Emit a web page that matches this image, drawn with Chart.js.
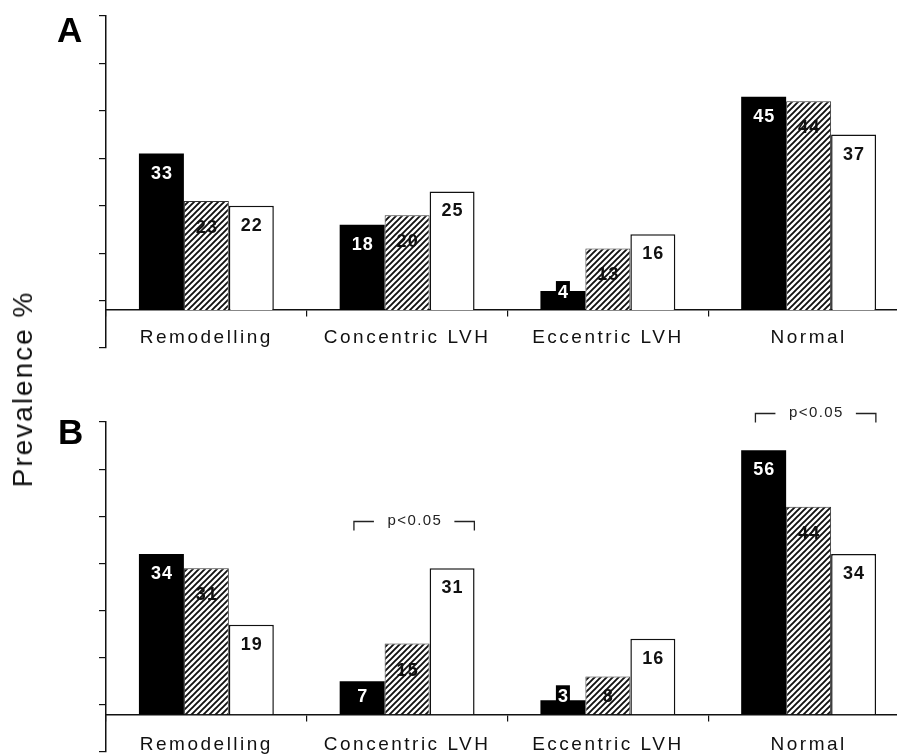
<!DOCTYPE html>
<html><head><meta charset="utf-8">
<script src="https://cdn.jsdelivr.net/npm/chart.js@4.4.0/dist/chart.umd.min.js"></script>
<style>
html,body{margin:0;padding:0;background:#fff;overflow:hidden;width:897px;height:756px;}
#wrap{position:relative;width:897px;height:756px;overflow:hidden;background:#fff;}
canvas{position:absolute;left:0;}
#cA{top:0;} #cB{top:378px;}
#ytitle{position:absolute;left:23px;top:389px;transform:translate(-50%,-50%) rotate(-90deg);font:28px "Liberation Sans",Arial,sans-serif;letter-spacing:2px;color:#111;white-space:nowrap;}
</style></head>
<body><div id="wrap">
<canvas id="cA" width="912" height="380"></canvas>
<canvas id="cB" width="912" height="378"></canvas>
<div id="ytitle">Prevalence %</div>
</div>
<script>
// ---- data ----
const categories = ['Remodelling', 'Concentric LVH', 'Eccentric LVH', 'Normal'];
const panelA_black   = [33, 18, 4, 45];
const panelA_hatched = [23, 20, 13, 44];
const panelA_white   = [22, 25, 16, 37];
const panelB_black   = [34, 7, 3, 56];
const panelB_hatched = [31, 15, 8, 44];
const panelB_white   = [19, 31, 16, 34];
const yTickValues = [-8, 2, 12, 22, 32, 42, 52, 62];
const panelB_pvalues = [
  {category: 'Concentric LVH', label: 'p<0.05', y: 41},
  {category: 'Normal', label: 'p<0.05', y: 64}
];

const FONT = '"Liberation Sans", Arial, sans-serif';
Chart.defaults.font.family = FONT;

function makeHatch() {
  const s = 6, c = document.createElement('canvas');
  c.width = s; c.height = s;
  const g = c.getContext('2d');
  g.fillStyle = '#fff'; g.fillRect(0, 0, s, s);
  g.strokeStyle = '#111'; g.lineWidth = 1.9;
  g.beginPath();
  g.moveTo(-1, s + 1); g.lineTo(s + 1, -1);
  g.moveTo(-2, 2); g.lineTo(2, -2);
  g.moveTo(s - 2, s + 2); g.lineTo(s + 2, s - 2);
  g.stroke();
  return g.createPattern(c, 'repeat');
}
const hatch = makeHatch();

const spacingPlugin = {
  id: 'spacingPlugin',
  beforeDraw(chart) { chart.ctx.letterSpacing = '2.5px'; },
  afterDraw(chart) { chart.ctx.letterSpacing = '0px'; }
};

const valueLabels = {
  id: 'valueLabels',
  afterDatasetsDraw(chart) {
    const ctx = chart.ctx;
    ctx.save();
    ctx.letterSpacing = '1px';
    ctx.font = 'bold 18px ' + FONT;
    ctx.textAlign = 'center';
    ctx.textBaseline = 'middle';
    chart.data.datasets.forEach((ds, di) => {
      chart.getDatasetMeta(di).data.forEach((el, i) => {
        const t = String(ds.data[i]);
        const cy = Math.min(el.y + ds.labelOffset, el.base - 18);
        const w = ctx.measureText(t).width;
        if (ds.labelBox) {
          ctx.fillStyle = ds.labelBox;
          ctx.fillRect(el.x - w / 2 - 1.5, cy - 11, w + 3, 22);
        }
        ctx.fillStyle = ds.labelColor;
        ctx.fillText(t, el.x + 0.5, cy + 1);
      });
    });
    ctx.restore();
  }
};

const panelDecor = {
  id: 'panelDecor',
  afterDraw(chart, args, o) {
    const ctx = chart.ctx;
    ctx.save();
    ctx.letterSpacing = '0px';
    ctx.fillStyle = '#000';
    ctx.font = 'bold 35px ' + FONT;
    ctx.textAlign = 'left';
    ctx.textBaseline = 'alphabetic';
    ctx.fillText(o.letter, o.letterX, o.letterY);
    const xs = chart.scales.x, ys = chart.scales.y;
    const cw = xs.width / categories.length;
    (o.brackets || []).forEach(b => {
      const c = xs.getPixelForValue(categories.indexOf(b.category));
      const l = c - 0.265 * cw, r = c + 0.335 * cw;
      const y = Math.round(ys.getPixelForValue(b.y)) + 0.5;
      const mid = (l + r) / 2;
      ctx.strokeStyle = '#222'; ctx.lineWidth = 1.3;
      ctx.beginPath();
      ctx.moveTo(l, y + 9); ctx.lineTo(l, y); ctx.lineTo(l + 20, y);
      ctx.moveTo(r - 20, y); ctx.lineTo(r, y); ctx.lineTo(r, y + 9);
      ctx.stroke();
      ctx.font = '15px ' + FONT;
      ctx.letterSpacing = '1.4px';
      ctx.textAlign = 'center';
      ctx.textBaseline = 'middle';
      ctx.fillStyle = '#222';
      ctx.fillText(b.label, mid + 0.7, y - 1);
      ctx.letterSpacing = '0px';
    });
    ctx.restore();
  }
};

function makeChart(id, black, hatched, white, cfg) {
  return new Chart(document.getElementById(id), {
    type: 'bar',
    data: {
      labels: categories,
      datasets: [
        {data: black, backgroundColor: '#000', borderWidth: 0, labelColor: '#fff', labelBox: '#000', labelOffset: 19},
        {data: hatched, backgroundColor: hatch, borderColor: '#333', borderWidth: 1, labelColor: '#111', labelOffset: 26},
        {data: white, backgroundColor: '#fff', borderColor: '#111', borderWidth: 1.5, labelColor: '#111', labelOffset: 19}
      ]
    },
    options: {
      responsive: false,
      animation: false,
      devicePixelRatio: 1,
      layout: {padding: {top: cfg.top, bottom: cfg.bottom, left: 0, right: 3}},
      datasets: {bar: {categoryPercentage: 0.672, barPercentage: 1}},
      plugins: {
        legend: {display: false},
        tooltip: {enabled: false},
        panelDecor: {letter: cfg.letter, letterX: cfg.letterX, letterY: cfg.letterY, brackets: cfg.brackets}
      },
      scales: {
        x: {
          type: 'category',
          position: {y: 0},
          afterFit(s) { s.height = 0; },
          grid: {display: true, drawOnChartArea: false, drawTicks: true, tickLength: 6, color: '#111', lineWidth: 1.2, offset: true},
          border: {display: true, color: '#111', width: 1.5},
          ticks: {autoSkip: false, maxRotation: 0, minRotation: 0, padding: cfg.labelPad, color: '#111', font: {family: FONT, size: 19}}
        },
        y: {
          type: 'linear',
          min: -8, max: 62,
          afterFit(s) { s.width = 106; },
          afterBuildTicks(s) { s.ticks = yTickValues.map(v => ({value: v})); },
          grid: {drawOnChartArea: false, drawTicks: true, tickLength: 7, color: '#111', lineWidth: 1.2},
          border: {display: true, color: '#111', width: 1.5},
          ticks: {display: false}
        }
      }
    },
    plugins: [spacingPlugin, valueLabels, panelDecor]
  });
}

makeChart('cA', panelA_black, panelA_hatched, panelA_white,
  {top: 16, bottom: 32, labelPad: 10, letter: 'A', letterX: 57, letterY: 42, brackets: []});
makeChart('cB', panelB_black, panelB_hatched, panelB_white,
  {top: 44, bottom: 4, labelPad: 13, letter: 'B', letterX: 58, letterY: 66, brackets: panelB_pvalues});
</script>
</body></html>
